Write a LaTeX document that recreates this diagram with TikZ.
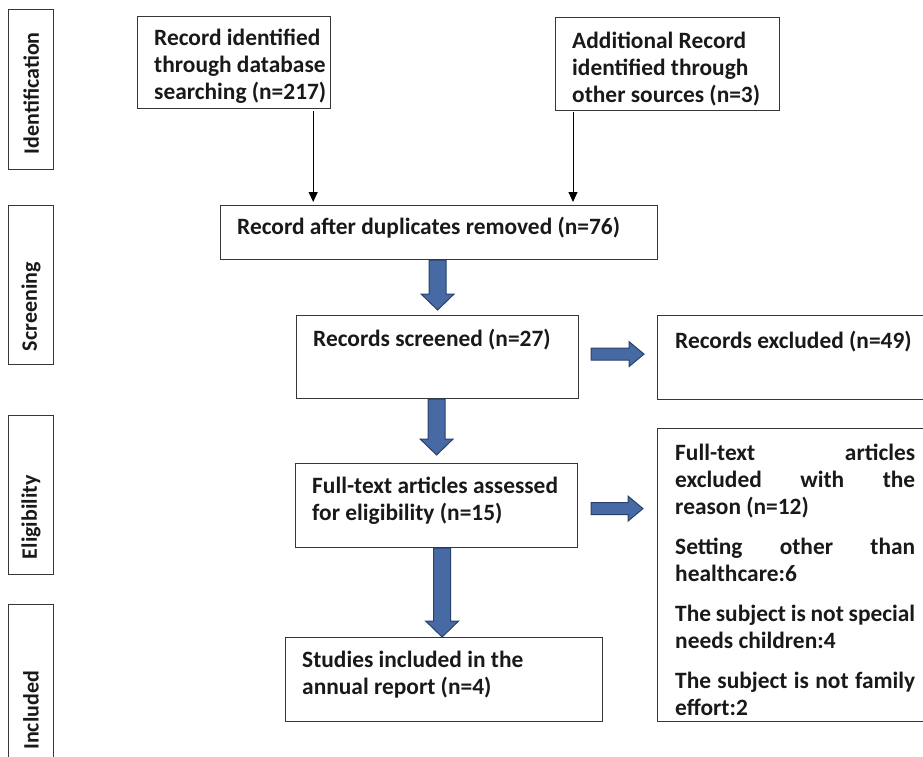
\documentclass[tikz,border=0pt]{standalone}
\usepackage{fontspec}
\setmainfont{Carlito}
\usetikzlibrary{calc,arrows.meta}
\definecolor{boxline}{RGB}{55,55,55}
\definecolor{txt}{RGB}{25,25,25}
\definecolor{arrfill}{RGB}{72,106,164}
\definecolor{arrdraw}{RGB}{40,64,108}
\newcommand\boxfont{\bfseries\fontsize{23.4}{27}\selectfont}
\newcommand\stagefont{\bfseries\fontsize{22}{26}\selectfont}
\newcommand\varrow[2]{\path[blockarrow] ($(#1)+(-8.5,0)$) -- ($(#2)+(-8.5,-16)$) -- ($(#2)+(-16.5,-16)$) -- (#2) -- ($(#2)+(16.5,-16)$) -- ($(#2)+(8.5,-16)$) -- ($(#1)+(8.5,0)$) -- cycle;}
\newcommand\harrow[2]{\path[blockarrow] ($(#1)+(0,-6)$) -- ($(#2)+(-15,-6)$) -- ($(#2)+(-15,-12.5)$) -- (#2) -- ($(#2)+(-15,12.5)$) -- ($(#2)+(-15,6)$) -- ($(#1)+(0,6)$) -- cycle;}
\begin{document}
\begin{tikzpicture}[x=1pt,y=-1pt,
 frame/.style={draw=boxline,line width=1.2pt,anchor=north west,inner sep=0pt},
 txtnode/.style={anchor=north west,inner sep=0pt,align=left,font=\boxfont,text=txt},
 stagetxt/.style={anchor=west,rotate=90,inner sep=0pt,font=\stagefont,text=txt},
 thinarrow/.style={draw=black,line width=1pt,-{Triangle[length=10pt,width=9pt]}},
 blockarrow/.style={fill=arrfill,draw=arrdraw,line width=1pt,line join=miter}]
\clip (0,0) rectangle (923,757);
% stage boxes
\node[frame,minimum width=45pt,minimum height=160pt] (sid) at (8,9) {};
\node[frame,minimum width=45pt,minimum height=159pt] (ssc) at (8,205) {};
\node[frame,minimum width=45pt,minimum height=159pt] (sel) at (8,415) {};
\node[frame,minimum width=45pt,minimum height=170pt] (sin) at (8,604) {};
\node[stagetxt] (lid) at ($(sid.south)+(0,-16)$) {Identification};
\node[stagetxt] (lsc) at ($(ssc.south)+(0,-14)$) {Screening};
\node[stagetxt] (lel) at ($(sel.south)+(0,-16)$) {Eligibility};
\node[stagetxt] (lin) at ($(sin.north)+(0,146)$) {Included};
% main boxes
\node[frame,minimum width=193pt,minimum height=92pt] (b1) at (137,16) {};
\node[frame,minimum width=224pt,minimum height=93pt] (b2) at (555,17) {};
\node[frame,minimum width=437pt,minimum height=54pt] (b3) at (220,205) {};
\node[frame,minimum width=282pt,minimum height=83pt] (b4) at (296,315) {};
\node[frame,minimum width=290pt,minimum height=84pt] (b5) at (657,315) {};
\node[frame,minimum width=290pt,minimum height=293pt] (b6) at (657,428) {};
\node[frame,minimum width=282pt,minimum height=84pt] (bel) at (295,463) {};
\node[frame,minimum width=317pt,minimum height=84pt] (bin) at (285,637) {};
% texts
\node[txtnode] (t1) at ($(b1.north west)+(17,12.5)$) {Record identified\\through database\\searching (n=217)};
\node[txtnode] (t2) at ($(b2.north west)+(17,14.5)$) {Additional Record\\identified through\\other sources (n=3)};
\node[txtnode] (t3) at ($(b3.north west)+(17,11.5)$) {Record after duplicates removed (n=76)};
\node[txtnode] (t4) at ($(b4.north west)+(17,13.5)$) {Records screened (n=27)};
\node[txtnode] (t5) at ($(b5.north west)+(18,15.5)$) {Records excluded (n=49)};
\node[txtnode] (t6) at ($(b6.north west)+(18,15.5)$) {\parbox[t]{240pt}{\tolerance=10000\hbadness=10000\hfuzz=20pt\setlength{\parskip}{13pt}Full-text articles\linebreak excluded with the\linebreak reason (n=12)\par Setting other than\linebreak healthcare:6\par The subject is not special\linebreak needs children:4\par The subject is not family\linebreak effort:2}};
\node[txtnode] (tel) at ($(bel.north west)+(17,13.5)$) {Full-text articles assessed\\for eligibility (n=15)};
\node[txtnode] (tin) at ($(bin.north west)+(17,13.5)$) {Studies included in the\\annual report (n=4)};
% thin arrows
\coordinate (a1s) at ($(b1.south east)+(-18,2)$);
\coordinate (a2s) at ($(b2.south west)+(18,1)$);
\draw[thinarrow,shorten >=3pt] (a1s) -- (a1s |- b3.north);
\draw[thinarrow,shorten >=3pt] (a2s) -- (a2s |- b3.north);
% block arrows
\coordinate (v1s) at (b4.north |- b3.south);
\coordinate (v1e) at ($(b4.north)+(0,-5)$);
\varrow{v1s}{v1e}
\coordinate (v2s) at (bel.north |- b4.south);
\coordinate (v2e) at ($(bel.north)+(0,-8)$);
\varrow{v2s}{v2e}
\coordinate (v3s) at ($(bel.south)+(5.5,0)$);
\coordinate (v3e) at ($(v3s |- bin.north)$);
\varrow{v3s}{v3e}
\coordinate (h1s) at ($(b4.east)+(12,-3)$);
\coordinate (h1e) at ($(h1s -| b5.west)+(-13,0)$);
\harrow{h1s}{h1e}
\coordinate (h2s) at ($(bel.east)+(13,3)$);
\coordinate (h2e) at ($(h2s -| b6.west)+(-14,0)$);
\harrow{h2s}{h2e}
\end{tikzpicture}
\end{document}
